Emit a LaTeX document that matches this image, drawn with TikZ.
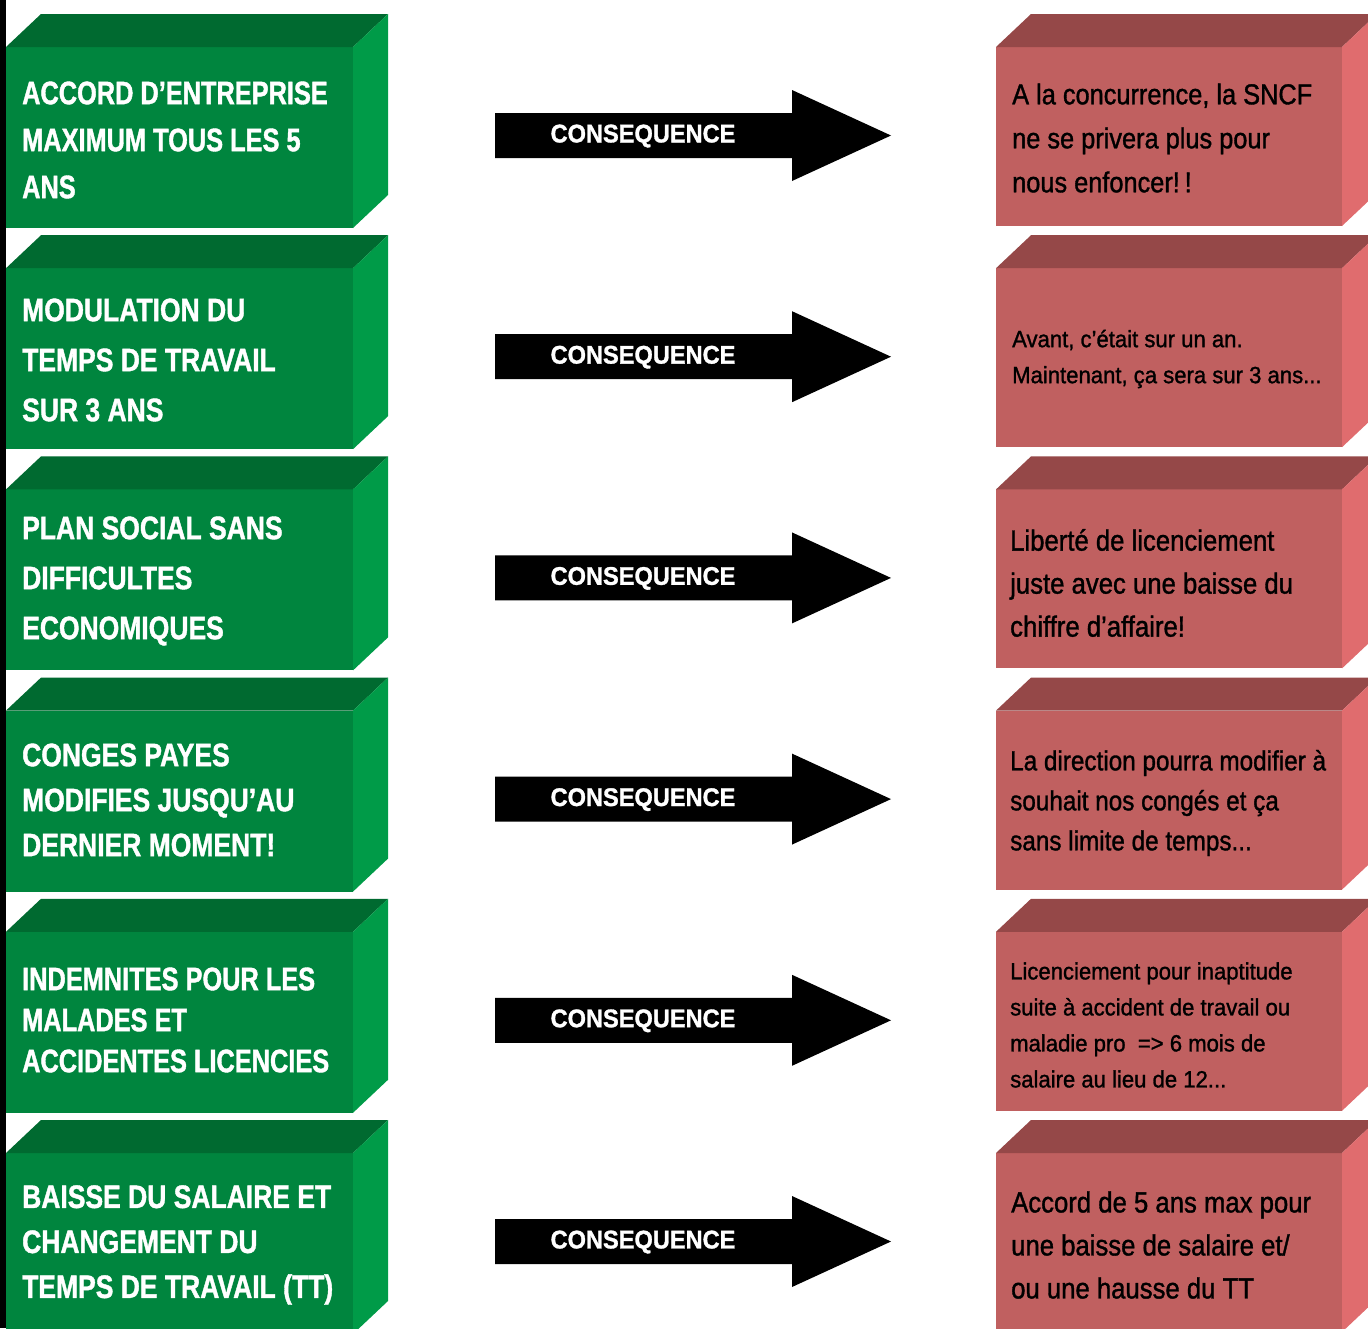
\documentclass[tikz,border=0pt]{standalone}
\usepackage{fontspec}
\newfontfamily\condb[FakeStretch=0.815,FakeBold=1.2]{Liberation Sans Bold}
\newfontfamily\condbb[FakeStretch=0.78,FakeBold=1.2]{Liberation Sans Bold}
\newfontfamily\condbc[FakeStretch=0.925,FakeBold=1.2]{Liberation Sans Bold}
\newfontfamily\condr[FakeStretch=0.88,FakeBold=1.2]{Liberation Sans}
\newfontfamily\condrw[FakeStretch=0.94,FakeBold=1.2]{Liberation Sans}
\definecolor{gfront}{HTML}{00853E}
\definecolor{gtop}{HTML}{006A30}
\definecolor{gside}{HTML}{009B48}
\definecolor{rfront}{HTML}{C06060}
\definecolor{rtop}{HTML}{954848}
\definecolor{rside}{HTML}{E06C6E}
\tikzset{
  gtext/.style={anchor=west, align=left, inner sep=0pt, text=white},
  rtext/.style={anchor=west, align=left, inner sep=0pt, text=black},
  arrtext/.style={inner sep=0pt, text=white, font=\condbc\fontsize{25.5}{30}\selectfont},
}
\begin{document}
\begin{tikzpicture}[x=1pt,y=-1pt]
\useasboundingbox (0,0) rectangle (1368,1328);
\clip (0,0) rectangle (1368,1328);
\fill[black] (0,0) rectangle (6,1328);
\foreach \i in {0,...,5}{
  \pgfmathsetmacro{\dy}{221.2*\i}
  % green cube
  \fill[gfront] (6,47+\dy) rectangle (353,228+\dy);
  \fill[gtop] (6,47+\dy) -- (41,14+\dy) -- (388,14+\dy) -- (353,47+\dy) -- cycle;
  \fill[gside] (353,47+\dy) -- (388,14+\dy) -- (388,195+\dy) -- (353,228+\dy) -- cycle;
  % red cube
  \fill[rfront] (996,47+\dy) rectangle (1342,226+\dy);
  \fill[rtop] (996,47+\dy) -- (1031,14+\dy) -- (1377,14+\dy) -- (1342,47+\dy) -- cycle;
  \fill[rside] (1342,47+\dy) -- (1377,14+\dy) -- (1377,193+\dy) -- (1342,226+\dy) -- cycle;
  % arrow
  \fill[black] (495,113+\dy) -- (792,113+\dy) -- (792,90+\dy) -- (891,135.5+\dy) -- (792,181+\dy) -- (792,158+\dy) -- (495,158+\dy) -- cycle;
  \node[arrtext] (a\i) at (643,136+\dy) {CONSEQUENCE};
}
% green texts
\node[gtext, font=\condbb\fontsize{32.5}{47}\selectfont] (g1) at (22,140) {ACCORD D’ENTREPRISE\\MAXIMUM TOUS LES 5\\ANS};
\node[gtext, font=\condb\fontsize{32.5}{50}\selectfont] (g2) at (22,360) {MODULATION DU\\TEMPS DE TRAVAIL\\SUR 3 ANS};
\node[gtext, font=\condb\fontsize{32.5}{50}\selectfont] (g3) at (22,581) {PLAN SOCIAL SANS\\DIFFICULTES\\ECONOMIQUES};
\node[gtext, font=\condb\fontsize{32.5}{45}\selectfont] (g4) at (22,800) {CONGES PAYES\\MODIFIES JUSQU’AU\\DERNIER MOMENT!};
\node[gtext, font=\condbb\fontsize{32.5}{41}\selectfont] (g5) at (22,1020) {INDEMNITES POUR LES\\MALADES ET\\ACCIDENTES LICENCIES};
\node[gtext, font=\condb\fontsize{32.5}{45}\selectfont] (g6) at (22,1245) {BAISSE DU SALAIRE ET\\CHANGEMENT DU\\TEMPS DE TRAVAIL (TT)};
% red texts
\node[rtext, font=\condr\fontsize{28.8}{44}\selectfont] (r1) at (1012,138) {A la concurrence, la SNCF\\ne se privera plus pour\\nous enfoncer!\,!};
\node[rtext, font=\condrw\fontsize{23.5}{36}\selectfont] (r2) at (1012,359) {Avant, c’était sur un an.\\Maintenant, ça sera sur 3 ans...};
\node[rtext, font=\condr\fontsize{29.2}{43}\selectfont] (r3) at (1010,583) {Liberté de licenciement\\juste avec une baisse du\\chiffre d’affaire!};
\node[rtext, font=\condr\fontsize{27.6}{40}\selectfont] (r4) at (1010,803) {La direction pourra modifier à\\souhait nos congés et ça\\sans limite de temps...};
\node[rtext, font=\condrw\fontsize{23.5}{36}\selectfont] (r5) at (1010,1025) {Licenciement pour inaptitude\\suite à accident de travail ou\\maladie pro\ \ => 6 mois de\\salaire au lieu de 12...};
\node[rtext, font=\condr\fontsize{29.2}{43}\selectfont] (r6) at (1011,1245) {Accord de 5 ans max pour\\une baisse de salaire et/\\ou une hausse du TT};
\end{tikzpicture}
\end{document}
